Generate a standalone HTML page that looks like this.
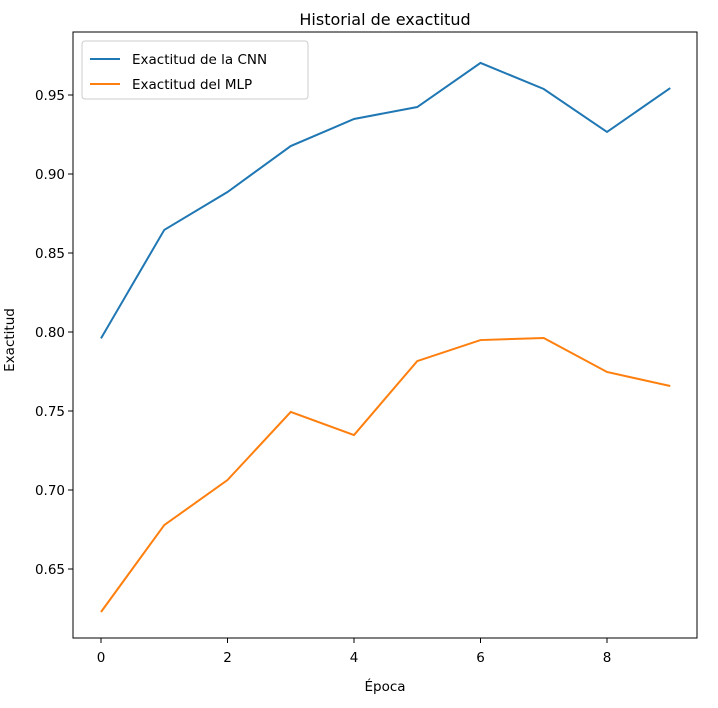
<!DOCTYPE html>
<html><head><meta charset="utf-8"><style>
body{margin:0;background:#fff;font-family:"Liberation Sans","DejaVu Sans",sans-serif}
svg text{font-family:"DejaVu Sans","Liberation Sans",sans-serif;fill:#000}
</style></head><body>
<svg id="c" width="718" height="703" xmlns="http://www.w3.org/2000/svg"></svg>
<script>
const epochs=[0,1,2,3,4,5,6,7,8,9];
const cnnAcc=[0.796,0.8646,0.8886,0.9177,0.9348,0.9424,0.9703,0.9538,0.9266,0.9544];
const mlpAcc=[0.6228,0.6778,0.7063,0.7494,0.7348,0.7816,0.7949,0.7962,0.7747,0.7658];
const xTicks=[0,2,4,6,8];
const yTicks=[0.65,0.70,0.75,0.80,0.85,0.90,0.95];
const L=73,R=697,T=32,B=638;
const x=v=>101+v*63.25;
const y=v=>95+(0.95-v)*1580;
const s=document.getElementById('c');const NS='http://www.w3.org/2000/svg';
function mk(t,a,p){const e=document.createElementNS(NS,t);for(const k in a)e.setAttribute(k,a[k]);(p||s).appendChild(e);return e;}
const title=mk('text',{x:385,y:25,'text-anchor':'middle','font-size':16});title.textContent='Historial de exactitud';


const frame=mk('rect',{x:L,y:T,width:R-L,height:B-T,fill:'none',stroke:'#000','stroke-width':1});


xTicks.forEach(v=>{mk('line',{x1:x(v),x2:x(v),y1:B,y2:B+5,stroke:'#000'});const t=mk('text',{x:x(v),y:B+24,'text-anchor':'middle','font-size':13.5});t.textContent=v;

});
yTicks.forEach(v=>{mk('line',{x1:L-5,x2:L,y1:y(v),y2:y(v),stroke:'#000'});const t=mk('text',{x:L-8,y:y(v)+5,'text-anchor':'end','font-size':13.5});t.textContent=v.toFixed(2);

});
const xt=mk('text',{x:385,y:691,'text-anchor':'middle','font-size':13.5});xt.textContent='Época';


const yt=mk('text',{x:14,y:340,'text-anchor':'middle','font-size':13.5,transform:'rotate(-90 14 340)'});yt.textContent='Exactitud';


function line(d,c,n){const p=mk('polyline',{points:epochs.map((e,i)=>x(e)+','+y(d[i])).join(' '),fill:'none',stroke:c,'stroke-width':2});

}
line(cnnAcc,'#1f77b4','cnn-line');line(mlpAcc,'#ff7f0e','mlp-line');
const lg=mk('g',{});


mk('rect',{x:82,y:41,width:226,height:58,rx:3,fill:'#fff',stroke:'#ccc'},lg);
[['Exactitud de la CNN','#1f77b4',59],['Exactitud del MLP','#ff7f0e',84]].forEach(([n,c,yy])=>{mk('line',{x1:90,x2:120,y1:yy,y2:yy,stroke:c,'stroke-width':2},lg);const t=mk('text',{x:132,y:yy+5,'font-size':13.5},lg);t.textContent=n;

});
</script>
</body></html>
